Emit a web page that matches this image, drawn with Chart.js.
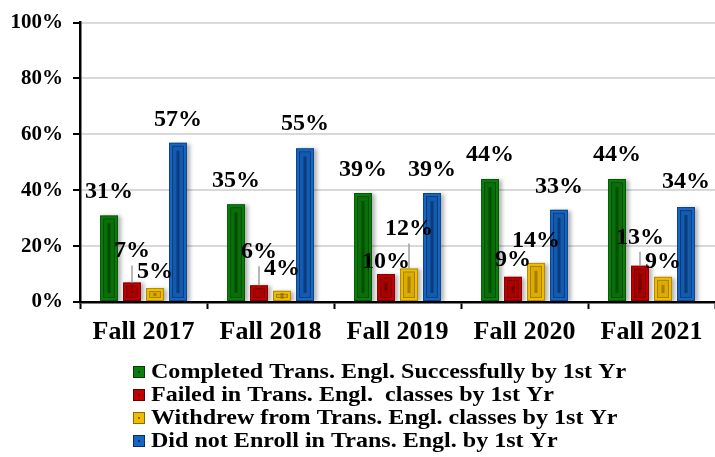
<!DOCTYPE html>
<html>
<head>
<meta charset="utf-8">
<script src="https://cdn.jsdelivr.net/npm/chart.js@4.4.1/dist/chart.umd.min.js"></script>
<style>
  html, body { margin: 0; padding: 0; background: #fff; }
  #wrap { width: 715px; height: 457px; position: relative; }
</style>
</head>
<body>
<div id="wrap"><canvas id="chart"></canvas></div>
<script>
// data
const terms = ['Fall 2017', 'Fall 2018', 'Fall 2019', 'Fall 2020', 'Fall 2021'];
const completed = [31, 35, 39, 44, 44];
const failed = [7, 6, 10, 9, 13];
const withdrew = [5, 4, 12, 14, 9];
const notEnrolled = [57, 55, 39, 33, 34];
const yTicks = ['0%', '20%', '40%', '60%', '80%', '100%'];

const seriesNames = [
    'Completed Trans. Engl. Successfully by 1st Yr',
    'Failed in Trans. Engl.  classes by 1st Yr',
    'Withdrew from Trans. Engl. classes by 1st Yr',
    'Did not Enroll in Trans. Engl. by 1st Yr'
];
const fills = ['#0b7d0b', '#c00000', '#f2bd00', '#1667c4'];
const darks = ['#043d04', '#5c0000', '#8a6a00', '#082f63'];

// label gap (px above bar top), a leader line is drawn for the lifted ones
const labelGap = [
    [17, 17, 17, 18, 18],
    [25, 27, 6, 11, 22],
    [10, 16, 33, 16, 9],
    [17, 18, 17, 17, 19]
];

const serif = "'Liberation Serif', 'Times New Roman', serif";

const bevelPlugin = {
    id: 'bevel',
    beforeDatasetsDraw(chart) {
        const ctx = chart.ctx;
        ctx.save();
        ctx.shadowColor = 'rgba(0,0,0,0.3)';
        ctx.shadowBlur = 4;
        ctx.shadowOffsetX = 3;
        ctx.shadowOffsetY = 1;
    },
    afterDatasetsDraw(chart) {
        const ctx = chart.ctx;
        ctx.restore();
        chart.data.datasets.forEach((ds, i) => {
            chart.getDatasetMeta(i).data.forEach((bar) => {
                const w = bar.width;
                const left = bar.x - w / 2;
                const top = bar.y;
                const h = bar.base - bar.y;
                ctx.save();
                ctx.strokeStyle = darks[i];
                ctx.globalAlpha = 0.6;
                ctx.lineWidth = 1;
                ctx.strokeRect(left + 0.5, top + 0.5, w - 1, h - 1);
                if (h > 8) {
                    ctx.globalAlpha = 0.75;
                    ctx.strokeRect(left + 3.5, top + 3.5, w - 7, h - 7);
                    ctx.fillStyle = darks[i];
                    ctx.globalAlpha = 0.2;
                    ctx.fillRect(left + 4, top + 4, w - 8, h - 8);
                    ctx.globalAlpha = 0.7;
                    ctx.fillRect(bar.x - 1.5, top + 8, 3, h - 16);
                }
                ctx.restore();
            });
        });
    }
};

const labelPlugin = {
    id: 'valueLabels',
    afterDraw(chart) {
        const ctx = chart.ctx;
        ctx.save();
        ctx.font = 'bold 24px ' + serif;
        ctx.textAlign = 'center';
        ctx.textBaseline = 'alphabetic';
        chart.data.datasets.forEach((ds, i) => {
            chart.getDatasetMeta(i).data.forEach((bar, j) => {
                const gap = labelGap[i][j];
                const baseY = bar.y - gap;
                if (gap > 20) {
                    ctx.strokeStyle = '#a0a0a0';
                    ctx.lineWidth = 1.5;
                    ctx.beginPath();
                    ctx.moveTo(bar.x, baseY + 8);
                    ctx.lineTo(bar.x, bar.y);
                    ctx.stroke();
                }
                ctx.fillStyle = '#000';
                ctx.fillText(ds.data[j] + '%', bar.x, baseY);
            });
        });
        ctx.restore();
    }
};

const legendPlugin = {
    id: 'stackLegend',
    afterDraw(chart) {
        const ctx = chart.ctx;
        ctx.save();
        ctx.font = 'bold 21px ' + serif;
        ctx.textBaseline = 'middle';
        chart.data.datasets.forEach((ds, i) => {
            const cy = 372 + i * 23;
            const bx = 133;
            ctx.fillStyle = fills[i];
            ctx.fillRect(bx, cy - 6, 12, 12);
            ctx.strokeStyle = darks[i];
            ctx.lineWidth = 1;
            ctx.strokeRect(bx + 0.5, cy - 5.5, 11, 11);
            ctx.fillStyle = darks[i];
            ctx.fillRect(bx + 5, cy - 1, 2, 2);
            ctx.save();
            ctx.translate(151, cy + 1);
            ctx.scale(1.145, 1);
            ctx.fillStyle = '#000';
            ctx.fillText(ds.label, 0, 0);
            ctx.restore();
        });
        ctx.restore();
    }
};

new Chart(document.getElementById('chart'), {
    type: 'bar',
    data: {
        labels: terms,
        datasets: [completed, failed, withdrew, notEnrolled].map((vals, i) => ({
            label: seriesNames[i],
            data: vals,
            backgroundColor: fills[i],
            borderWidth: 0,
            barPercentage: 0.78,
            categoryPercentage: 0.724
        }))
    },
    options: {
        responsive: true,
        maintainAspectRatio: false,
        animation: false,
        layout: { padding: { top: 20, right: 0, left: 0, bottom: 0 } },
        plugins: {
            legend: { display: false },
            tooltip: { enabled: false }
        },
        scales: {
            x: {
                afterFit(scale) { scale.height = 155; },
                border: { display: true, color: '#000', width: 2.5 },
                grid: {
                    offset: true,
                    drawOnChartArea: false,
                    drawTicks: true,
                    tickLength: 7,
                    tickColor: '#000',
                    tickWidth: 2
                },
                ticks: {
                    color: '#000',
                    padding: 8,
                    font: { family: serif, size: 26, weight: 'bold' }
                }
            },
            y: {
                min: 0,
                max: 100,
                afterFit(scale) { scale.width = 80; },
                border: { display: true, color: '#000', width: 2.5 },
                grid: {
                    color: '#d9d9d9',
                    lineWidth: 2,
                    tickColor: '#000',
                    tickLength: 7,
                    tickWidth: 2
                },
                ticks: {
                    stepSize: 20,
                    color: '#000',
                    padding: 10,
                    font: { family: serif, size: 21, weight: 'bold' },
                    callback: (v) => yTicks[v / 20]
                }
            }
        }
    },
    plugins: [bevelPlugin, labelPlugin, legendPlugin]
});
</script>
</body>
</html>
